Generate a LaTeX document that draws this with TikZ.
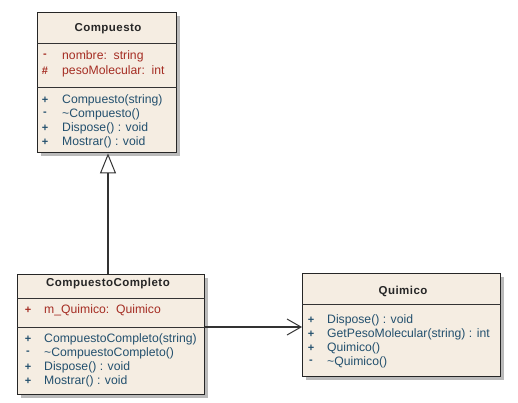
\documentclass[tikz,border=0pt]{standalone}
\usepackage{fontspec}
\setmainfont{Liberation Sans}
\usetikzlibrary{arrows.meta,shadows}
\definecolor{boxfill}{RGB}{245,237,226}
\definecolor{attrc}{RGB}{165,45,35}
\definecolor{methc}{RGB}{35,80,110}
\begin{document}
\begin{tikzpicture}[x=1pt,y=-1pt,
  cls/.style={draw=black!85, line width=1.4pt, fill=boxfill, anchor=north west, inner sep=0pt,
    drop shadow={shadow xshift=3pt, shadow yshift=-3pt, fill=black!45, opacity=.6}},
  sep/.style={draw=black!80, line width=1pt},
  ttl/.style={font=\bfseries\fontsize{11.5}{14}\selectfont\addfontfeature{LetterSpace=4}, text=black!85},
  txt/.style={anchor=west, inner sep=0pt, font=\fontsize{12.2}{14}\selectfont},
  sgn/.style={anchor=center, inner sep=0pt, font=\bfseries\fontsize{11}{13}\selectfont},
  attr/.style={txt, text=attrc},
  meth/.style={txt, text=methc},
  attrs/.style={sgn, text=attrc},
  meths/.style={sgn, text=methc},
  conn/.style={draw=black!80, line width=1.1pt}]
\useasboundingbox (0,0) rectangle (518,402);
% Compuesto
\node[cls, minimum width=139pt, minimum height=140pt] (comp) at (37,12) {};
\draw[sep] (comp.west |- 0,43) -- (comp.east |- 0,43);
\draw[sep] (comp.west |- 0,87) -- (comp.east |- 0,87);
\node[ttl] (compT) at (108,29) {Compuesto};
\node[attrs] (c1s) at (45,56) {-};
\node[attr] (c1) at (62,56) {nombre:\ \ string};
\node[attrs] (c2s) at (45,71) {\#};
\node[attr] (c2) at (62,71) {pesoMolecular:\ \ int};
\node[meths] (c3s) at (45,100) {+};
\node[meth] (c3) at (62,100) {Compuesto(string)};
\node[meths] (c4s) at (45,114) {-};
\node[meth] (c4) at (62,114) {\textasciitilde Compuesto()};
\node[meths] (c5s) at (45,128) {+};
\node[meth] (c5) at (62,128) {Dispose() : void};
\node[meths] (c6s) at (45,142) {+};
\node[meth] (c6) at (62,142) {Mostrar() : void};
% CompuestoCompleto
\node[cls, minimum width=187pt, minimum height=120pt] (cc) at (17,274) {};
\draw[sep] (cc.west |- 0,298) -- (cc.east |- 0,298);
\draw[sep] (cc.west |- 0,327) -- (cc.east |- 0,327);
\node[ttl] (ccT) at (108,284) {CompuestoCompleto};
\node[attrs] (k1s) at (28,310) {+};
\node[attr] (k1) at (44,310) {m\_Quimico:\ \ Quimico};
\node[meths] (k2s) at (28,339) {+};
\node[meth] (k2) at (44,339) {CompuestoCompleto(string)};
\node[meths] (k3s) at (28,353) {-};
\node[meth] (k3) at (44,353) {\textasciitilde CompuestoCompleto()};
\node[meths] (k4s) at (28,367) {+};
\node[meth] (k4) at (44,367) {Dispose() : void};
\node[meths] (k5s) at (28,381) {+};
\node[meth] (k5) at (44,381) {Mostrar() : void};
% Quimico
\node[cls, minimum width=198pt, minimum height=103pt] (qu) at (302,273) {};
\draw[sep] (qu.west |- 0,304) -- (qu.east |- 0,304);
\node[ttl] (quT) at (403,291) {Quimico};
\node[meths] (q1s) at (311,320) {+};
\node[meth] (q1) at (327,320) {Dispose() : void};
\node[meths] (q2s) at (311,334) {+};
\node[meth] (q2) at (327,334) {GetPesoMolecular(string) : int};
\node[meths] (q3s) at (311,348) {+};
\node[meth] (q3) at (327,348) {Quimico()};
\node[meths] (q4s) at (311,362) {-};
\node[meth] (q4) at (327,362) {\textasciitilde Quimico()};
% connectors
\coordinate (inhA) at (108,0);
\draw[conn, -{Triangle[open, fill=white, width=16pt, length=20pt, line width=1pt]}]
  (cc.north -| inhA) -- (comp.south -| inhA);
\coordinate (asA) at (0,327);
\draw[conn, -{Straight Barb[length=14pt, width=16pt, line width=1pt]}]
  (cc.east |- asA) -- (qu.west |- asA);
\end{tikzpicture}
\end{document}
